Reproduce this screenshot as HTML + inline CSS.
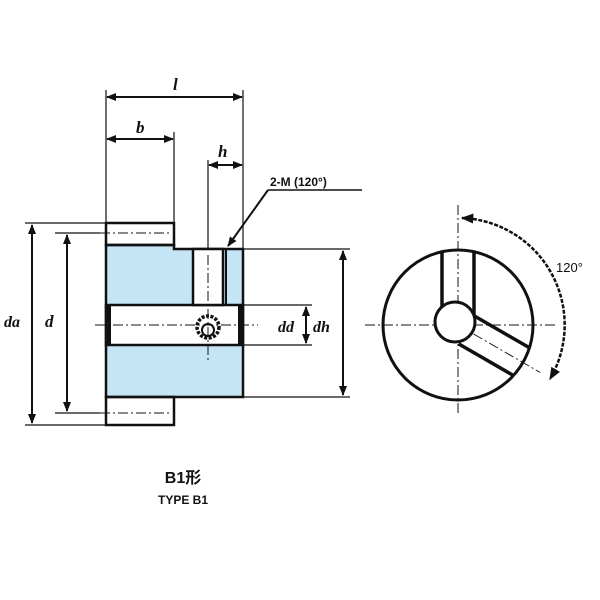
<!DOCTYPE html>
<html><head><meta charset="utf-8"><style>
html,body{margin:0;padding:0;background:#fff;}
svg{display:block;}
text{font-family:"Liberation Sans","Noto Sans CJK JP",sans-serif;fill:#111;}
.it{font-family:"Liberation Serif",serif;font-style:italic;font-weight:bold;}
</style></head><body>
<svg width="600" height="600" viewBox="0 0 600 600" xmlns="http://www.w3.org/2000/svg">
<defs>
<marker id="a" viewBox="0 0 10 10" refX="9" refY="5" markerWidth="5" markerHeight="5" orient="auto-start-reverse"><path d="M0,1 L10,5 L0,9 z" fill="#111"/></marker>
</defs>
<g stroke="#111" fill="none">
<!-- blue body -->
<path d="M106,245 H174 V249 H243 V397 H106 Z" fill="#c5e4f5" stroke="none"/>
<!-- teeth -->
<rect x="106" y="223" width="68" height="22" fill="#fff" stroke-width="2.5"/>
<rect x="106" y="397" width="68" height="28" fill="#fff" stroke-width="2.5"/>
<!-- outline -->
<path d="M106,245 H174 V249 H243 V397 H106 Z" stroke-width="2.5"/>
<!-- bore -->
<rect x="106" y="305" width="137" height="40" fill="#fff" stroke-width="2.5"/>
<rect x="106" y="305" width="5" height="40" fill="#111" stroke="none"/>
<rect x="238" y="305" width="5" height="40" fill="#111" stroke="none"/>
<!-- set screw hole -->
<rect x="193" y="249" width="30" height="56" fill="#fff" stroke-width="2.5"/>
<line x1="226" y1="249" x2="226" y2="305" stroke-width="2"/>
<circle cx="208" cy="327" r="11" fill="#fff" stroke-width="3.5" stroke-dasharray="3 1.5"/>
<circle cx="208" cy="330" r="6" stroke-width="2"/>
<!-- center lines -->
<g stroke-width="1" stroke-dasharray="10 3 2 3">
<line x1="95" y1="325" x2="258" y2="325"/>
<line x1="208" y1="255" x2="208" y2="360"/>
<line x1="100" y1="233" x2="170" y2="233"/>
<line x1="100" y1="413" x2="170" y2="413"/>
<line x1="365" y1="325" x2="555" y2="325"/>
<line x1="458" y1="205" x2="458" y2="415"/>
</g>
<!-- extension lines -->
<g stroke-width="1.2">
<line x1="106" y1="90" x2="106" y2="223"/>
<line x1="243" y1="90" x2="243" y2="249"/>
<line x1="174" y1="132" x2="174" y2="223"/>
<line x1="208" y1="160" x2="208" y2="249"/>
<line x1="25" y1="223" x2="106" y2="223"/>
<line x1="25" y1="425" x2="106" y2="425"/>
<line x1="55" y1="233" x2="100" y2="233"/>
<line x1="55" y1="413" x2="100" y2="413"/>
<line x1="243" y1="249" x2="350" y2="249"/>
<line x1="243" y1="397" x2="350" y2="397"/>
<line x1="243" y1="305" x2="312" y2="305"/>
<line x1="243" y1="345" x2="312" y2="345"/>
</g>
<!-- dims -->
<g stroke-width="2" marker-start="url(#a)" marker-end="url(#a)">
<line x1="107" y1="97" x2="242" y2="97"/>
<line x1="107" y1="139" x2="173" y2="139"/>
<line x1="209" y1="165" x2="242" y2="165"/>
<line x1="32" y1="225" x2="32" y2="423"/>
<line x1="67" y1="235" x2="67" y2="411"/>
<line x1="343" y1="251" x2="343" y2="395"/>
<line x1="306" y1="307" x2="306" y2="343"/>
</g>
<!-- leader -->
<line x1="268" y1="190" x2="228" y2="246" stroke-width="2" marker-end="url(#a)"/>
<line x1="268" y1="190" x2="362" y2="190" stroke-width="1.5"/>
<!-- right view -->
<circle cx="458" cy="325" r="75" stroke-width="3"/>
<g transform="translate(458,325)">
<path d="M-16,-73 V-10 M16,-73 V-10" stroke-width="3.5"/>
<g transform="rotate(30)"><path d="M10,-16 H74 M10,16 H72" stroke-width="3.5"/><path d="M74,-16 V16" stroke-width="1"/><line x1="0" y1="0" x2="95" y2="0" stroke-width="1" stroke-dasharray="10 3 2 3"/></g>
<circle cx="-3" cy="-3" r="20" fill="#fff" stroke-width="3"/>
<path d="M4,-107 A107,107 0 0 1 92,54" stroke-width="2.5" stroke-dasharray="4 1.5" marker-start="url(#a)" marker-end="url(#a)"/>
</g>
</g>
<text x="556" y="272" font-size="13">120°</text>
<text x="270" y="186" font-size="12" font-weight="bold">2-M (120°)</text>
<text class="it" x="173" y="90" font-size="17">l</text>
<text class="it" x="136" y="133" font-size="17">b</text>
<text class="it" x="218" y="157" font-size="17">h</text>
<text class="it" x="4" y="327" font-size="16">da</text>
<text class="it" x="45" y="327" font-size="17">d</text>
<text class="it" x="278" y="332" font-size="16">dd</text>
<text class="it" x="313" y="332" font-size="16">dh</text>
<text x="183" y="483" font-size="16" font-weight="bold" text-anchor="middle">B1形</text>
<text x="183" y="504" font-size="12" font-weight="bold" text-anchor="middle">TYPE B1</text>
</svg>
</body></html>
